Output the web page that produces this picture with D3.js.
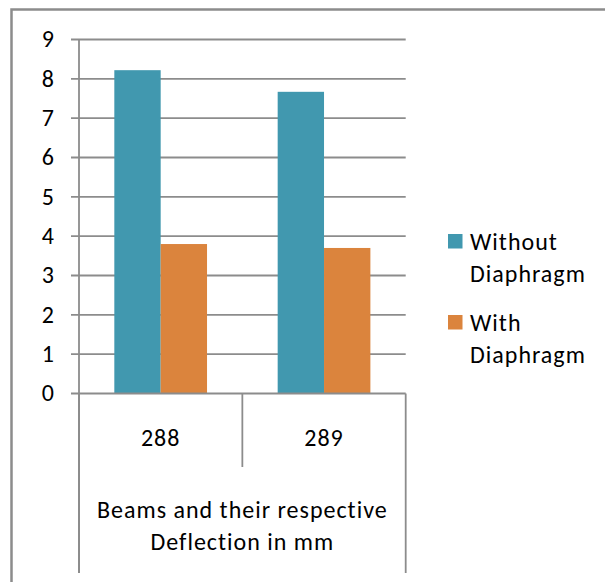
<!DOCTYPE html>
<html>
<head>
<meta charset="utf-8">
<script src="https://cdn.jsdelivr.net/npm/d3@7/dist/d3.min.js"></script>
<style>
  html, body { margin: 0; padding: 0; background: #fff; }
  svg { display: block; }
  text { font-family: Carlito, Calibri, Lato, sans-serif; fill: #000; letter-spacing: 1px; }
</style>
</head>
<body>
<svg id="chart" width="605" height="582"></svg>
<script>
// Beam deflections (mm), with and without diaphragm
const categories = ["288", "289"];
const seriesNames = ["Without Diaphragm", "With Diaphragm"];
const withoutDiaphragm = [8.22, 7.67];
const withDiaphragm = [3.80, 3.70];
const yTicks = [0, 1, 2, 3, 4, 5, 6, 7, 8, 9];
const axisTitle = ["Beams and their respective", "Deflection in mm"];
const legendLines = [["Without", "Diaphragm"], ["With", "Diaphragm"]];
const colors = ["#4198af", "#db843d"];

const series = [withoutDiaphragm, withDiaphragm];
const rows = categories.map((c, i) => ({ cat: c, vals: series.map(s => s[i]) }));

const svg = d3.select("#chart");
const gridColor = "#8c8c8c";
const fontSize = 24;

// outer chart frame
svg.append("rect")
  .attr("x", 11.5).attr("y", 9.5)
  .attr("width", 700).attr("height", 700)
  .attr("fill", "none").attr("stroke", gridColor).attr("stroke-width", 2.5);

const plotLeft = 79, plotRight = 405.7, plotTop = 39.5, plotBottom = 393.5;

const x = d3.scaleBand().domain(categories).range([plotLeft, plotRight]).paddingInner(0).paddingOuter(0);
const xs = d3.scaleBand().domain(d3.range(seriesNames.length)).range([0, x.bandwidth()])
  .paddingInner(0).paddingOuter(0.762);
const y = d3.scaleLinear().domain([0, 9]).range([plotBottom, plotTop]);

// horizontal gridlines
svg.append("g").selectAll("line").data(yTicks.filter(t => t > 0)).join("line")
  .attr("x1", plotLeft - 8).attr("x2", plotRight)
  .attr("y1", d => y(d)).attr("y2", d => y(d))
  .attr("stroke", gridColor).attr("stroke-width", 1.8);

// bars
svg.append("g").selectAll("g").data(rows).join("g")
  .attr("transform", d => `translate(${x(d.cat)},0)`)
  .selectAll("rect").data(d => d.vals).join("rect")
  .attr("x", (d, i) => xs(i))
  .attr("width", xs.bandwidth())
  .attr("y", d => y(d))
  .attr("height", d => y(0) - y(d))
  .attr("fill", (d, i) => colors[i]);

// y axis line and labels
svg.append("line")
  .attr("x1", plotLeft).attr("x2", plotLeft).attr("y1", plotTop).attr("y2", 573)
  .attr("stroke", gridColor).attr("stroke-width", 1.8);

svg.append("g").selectAll("text").data(yTicks).join("text")
  .attr("x", 55).attr("y", d => y(d))
  .attr("dy", "0.32em")
  .attr("text-anchor", "end")
  .attr("font-size", fontSize)
  .text(d => d);

// baseline
svg.append("line")
  .attr("x1", plotLeft - 8).attr("x2", plotRight).attr("y1", y(0)).attr("y2", y(0))
  .attr("stroke", gridColor).attr("stroke-width", 1.8);

// category dividers
const divs = categories.map(c => x(c)).concat([plotRight]);
svg.append("g").selectAll("line").data(divs).join("line")
  .attr("x1", d => d).attr("x2", d => d)
  .attr("y1", y(0))
  .attr("y2", (d, i) => (i === 0 || i === divs.length - 1) ? 573 : 467)
  .attr("stroke", gridColor).attr("stroke-width", 1.8);

// category labels
svg.append("g").selectAll("text").data(categories).join("text")
  .attr("x", d => x(d) + x.bandwidth() / 2)
  .attr("y", 446)
  .attr("text-anchor", "middle")
  .attr("font-size", fontSize)
  .text(d => d);

// group title
svg.append("g").selectAll("text").data(axisTitle).join("text")
  .attr("x", (plotLeft + plotRight) / 2)
  .attr("y", (d, i) => 518 + i * 32)
  .attr("text-anchor", "middle")
  .attr("font-size", fontSize)
  .text(d => d);

// legend
const legend = svg.append("g").selectAll("g").data(legendLines).join("g")
  .attr("transform", (d, i) => `translate(448,${234 + i * 81})`);
legend.append("rect")
  .attr("width", 14.5).attr("height", 14.5)
  .attr("fill", (d, i) => colors[i]);
legend.selectAll("text").data(d => d).join("text")
  .attr("x", 22)
  .attr("y", (d, i) => 15.5 + i * 32.5)
  .attr("font-size", fontSize)
  .text(d => d);
</script>
</body>
</html>
